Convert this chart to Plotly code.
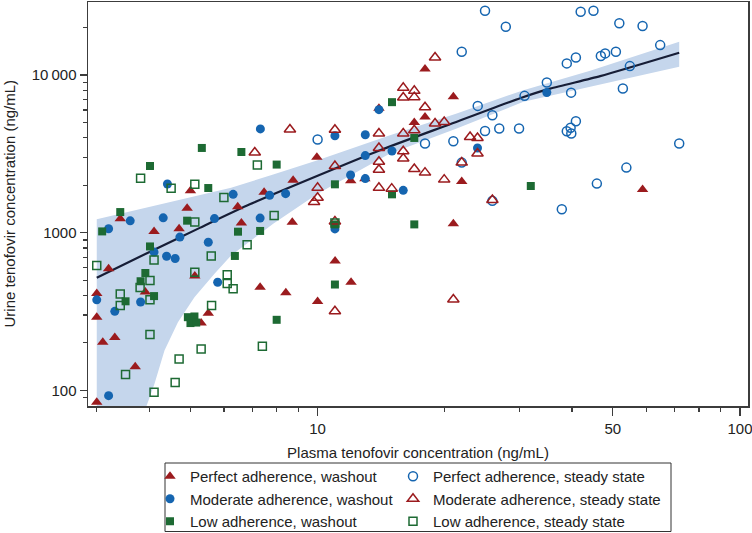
import plotly.graph_objects as go

# ---------------- data ----------------
perfect_washout_x = [3.0, 3.0, 3.0, 3.2, 3.1, 3.31, 3.7, 3.91, 4.1, 4.7, 5.12, 5.3, 5.51, 3.41, 5.0, 4.91,
                     6.47, 6.6, 7.47, 8.75, 8.71, 9.96, 11.98, 12.94, 11.0, 12.0, 7.31, 8.41, 10.0, 17.96,
                     20.96, 16.94, 17.96, 21.94, 20.96, 58.8, 13.97]
perfect_washout_y = [84, 411, 291, 590, 202, 216, 141, 420, 1019, 1060, 531, 267, 308, 1227, 1849, 1432,
                     1463, 1151, 1804, 2150, 1163, 3011, 2135, 2198, 662, 485, 451, 416, 366, 10920,
                     7280, 5003, 5430, 2110, 1141, 1877, 6170]

moderate_washout_x = [3.2, 3.6, 4.31, 4.41, 6.31, 5.7, 4.72, 5.51, 4.1, 4.39, 4.6, 7.32, 7.31, 7.7, 8.4,
                      10.99, 12.97, 11.97, 12.97, 12.97, 13.97, 15.0, 10.99, 3.0, 3.31, 3.81, 5.8, 3.2,
                      15.95, 23.91, 34.89]
moderate_washout_y = [1060, 1189, 1242, 2037, 1752, 1229, 938, 870, 753, 709, 686, 4556, 1238, 1727, 1770,
                      4124, 4184, 2324, 2204, 3086, 6036, 3302, 1057, 375, 317, 363, 485, 92.4,
                      1857, 3450, 7762]

low_washout_x = [5.32, 4.01, 5.51, 3.41, 3.09, 4.91, 4.01, 6.37, 6.6, 8.0, 10.99, 3.91, 3.81, 3.51, 4.1,
                 6.48, 7.31, 4.93, 5.11, 5.0, 5.16, 8.0, 10.99, 15.0, 15.0, 16.94, 31.97, 16.94, 10.99]
low_washout_y = [3450, 2651, 1921, 1352, 1019, 1192, 818, 712, 3253, 2706, 2028, 555, 492, 367, 396,
                 1015, 1026, 291, 294, 267, 269, 280, 469, 6737, 1752, 3993, 1978, 1129, 1129]

perfect_steady_x = [10.0, 24.91, 27.9, 21.94, 41.96, 38.9, 40.88, 34.89, 30.9, 39.83, 23.94, 25.93, 24.91,
                    26.92, 29.99, 38.9, 39.72, 40.88, 39.87, 17.96, 20.96, 21.94, 25.93, 37.86, 45.83,
                    44.99, 51.8, 58.8, 64.73, 46.84, 47.95, 50.84, 54.87, 52.81, 53.83, 71.8]
perfect_steady_y = [3901, 25630, 20290, 14070, 25260, 11870, 12950, 8985, 7387, 7742, 6379, 5568, 4425,
                    4583, 4583, 4406, 4637, 5100, 4259, 3679, 3805, 2786, 1593, 1407, 2049,
                    25630, 21320, 20490, 15510, 13210, 13740, 14070, 11410, 8230, 2589, 3679]

moderate_steady_x = [8.6, 7.1, 10.99, 10.99, 10.0, 10.0, 9.81, 10.99, 13.97, 13.97, 13.97, 13.97, 13.97,
                     14.98, 10.99, 18.97, 15.95, 16.94, 15.95, 16.94, 17.96, 18.97, 19.94, 15.95, 16.94,
                     22.96, 23.91, 15.95, 15.95, 16.94, 17.96, 19.94, 21.94, 23.91, 25.93, 20.96]
moderate_steady_y = [4523, 3230, 4503, 2647, 1926, 1665, 1565, 1180, 4266, 3444, 2819, 2507, 1926,
                     1904, 317, 12950, 8305, 7948, 7215, 7247, 6261, 4930, 5047, 4259, 4471,
                     4053, 3993, 3287, 2954, 2537, 2406, 2172, 2786, 3178, 1612, 377]

low_steady_x = [3.81, 4.5, 5.12, 6.0, 7.2, 7.89, 5.12, 5.6, 3.0, 4.1, 3.41, 3.41, 3.8, 4.01, 4.01, 5.12,
                6.11, 6.11, 6.31, 5.61, 4.01, 3.51, 4.1, 4.6, 4.7, 5.3, 7.4, 6.81, 10.99]
low_steady_y = [2214, 1912, 2028, 1670, 2694, 1288, 1168, 712, 620, 670, 409, 345, 449, 497, 375, 562,
                541, 476, 441, 345, 226, 126, 97.3, 112, 158, 183, 190, 840, 1154]

fit_x = [3.0, 4.0, 5.26, 6.91, 10.0, 14.05, 20.58, 30.16, 35.52, 46.67, 71.8]
fit_y = [517, 755, 1073, 1513, 2297, 3336, 4881, 7141, 8208, 9855, 13860]

band_x = [3.0, 3.4, 3.925, 4.11, 4.34, 4.67, 5.11, 5.7, 6.24, 7.85, 10.0, 14.84, 21.35, 30.71, 44.19, 71.8]
band_upper = [1215, 1315, 1442, 1484, 1536, 1607, 1702, 1822, 1932, 2337, 2882, 4155, 5708, 8028, 10680, 16280]
band_lower = [20, 45, 78, 110, 179, 270, 390, 549, 717, 1141, 1770, 3178, 4583, 6766, 8425, 11290]

x_tickvals = [10, 50, 100]
x_ticktext = ["10", "50", "100"]
x_minor = [3, 4, 5, 6, 7, 8, 9, 20, 30, 40, 60, 70, 80, 90]
y_tickvals = [100, 1000, 10000]
y_ticktext = ["100", "1000", "10\u2009000"]
y_minor = [90, 200, 300, 400, 500, 600, 700, 800, 900,
           2000, 3000, 4000, 5000, 6000, 7000, 8000, 9000, 20000]

x_title = "Plasma tenofovir concentration (ng/mL)"
y_title = "Urine tenofovir concentration (ng/mL)"

RED = "#9b1b1e"
BLUE = "#1565b0"
GREEN = "#1d6a33"
BAND = "#c5d6ec"
LINE = "#161d36"
AXIS = "#3c3c3c"
TXT = "#222222"
FS = 15

fig = go.Figure()

fig.add_trace(go.Scatter(
    x=band_x + band_x[::-1], y=band_upper + band_lower[::-1],
    mode="lines", fill="toself", fillcolor=BAND, line=dict(width=0),
    showlegend=False, hoverinfo="skip"))

fig.add_trace(go.Scatter(
    x=fit_x, y=fit_y, mode="lines", line=dict(color=LINE, width=2.2, shape="spline", smoothing=0.6),
    showlegend=False, hoverinfo="skip"))

series = [
    ("Perfect adherence, washout", perfect_washout_x, perfect_washout_y, "triangle-up", RED, 10, True, "legend"),
    ("Moderate adherence, washout", moderate_washout_x, moderate_washout_y, "circle", BLUE, 9, True, "legend"),
    ("Low adherence, washout", low_washout_x, low_washout_y, "square", GREEN, 8, True, "legend"),
    ("Perfect adherence, steady state", perfect_steady_x, perfect_steady_y, "circle-open", BLUE, 9, False, "legend2"),
    ("Moderate adherence, steady state", moderate_steady_x, moderate_steady_y, "triangle-up-open", RED, 10, False, "legend2"),
    ("Low adherence, steady state", low_steady_x, low_steady_y, "square-open", GREEN, 8, False, "legend2"),
]
for name, xs, ys, sym, col, size, filled, leg in series:
    fig.add_trace(go.Scatter(
        x=xs, y=ys, mode="markers", name=name, legend=leg,
        marker=dict(symbol=sym, size=size, color=col,
                    line=dict(width=0 if filled else 1.5, color=col))))

# legend frame (drawn as a rectangle so its size matches the reference)
L, B, H, W = 88, 127, 404, 660
def px_x(p):
    return (p - L) / W
def px_y(p):
    return (533 - B - p) / H

fig.add_shape(type="rect", xref="paper", yref="paper",
              x0=px_x(165), x1=px_x(671), y0=px_y(531.5), y1=px_y(463),
              line=dict(color="#333333", width=1), fillcolor="rgba(0,0,0,0)", layer="above")

# y-axis title as rotated text
fig.add_annotation(text=y_title, xref="paper", yref="paper", x=px_x(8.5), y=0.5,
                   xanchor="center", yanchor="middle", textangle=-90, showarrow=False,
                   font=dict(size=FS, color=TXT))

legend_common = dict(
    orientation="v", xref="container", yref="container", xanchor="left", yanchor="top",
    borderwidth=0, font=dict(size=FS, color=TXT), traceorder="normal",
    itemsizing="trace", bgcolor="rgba(0,0,0,0)")

fig.update_layout(
    width=752, height=533,
    margin=dict(l=L, r=4, t=2, b=B, autoexpand=False),
    plot_bgcolor="white", paper_bgcolor="white",
    font=dict(family="Liberation Sans, Arial, sans-serif", size=FS, color=TXT),
    showlegend=True, hovermode=False,
    legend=dict(x=150 / 752, y=1 - 460 / 533, **legend_common),
    legend2=dict(x=393 / 752, y=1 - 460 / 533, **legend_common),
)

fig.update_xaxes(
    type="log", range=[0.4564, 2.019], automargin=False,
    showline=True, linecolor=AXIS, linewidth=1.5, mirror=True,
    showgrid=False, zeroline=False,
    ticks="outside", ticklen=8, tickwidth=1.3, tickcolor=AXIS,
    tickmode="array", tickvals=x_tickvals, ticktext=x_ticktext,
    ticklabeloverflow="allow",
    minor=dict(ticks="outside", ticklen=4, tickwidth=1.2, tickcolor=AXIS,
               tickmode="array", tickvals=x_minor, showgrid=False),
    title=dict(text=x_title, standoff=12, font=dict(size=FS, color=TXT)),
    tickfont=dict(size=FS, color=TXT),
)
fig.update_yaxes(
    type="log", range=[1.9002, 4.4641], automargin=False,
    showline=True, linecolor=AXIS, linewidth=1.5, mirror=True,
    showgrid=False, zeroline=False,
    ticks="outside", ticklen=7, tickwidth=1.3, tickcolor=AXIS,
    tickmode="array", tickvals=y_tickvals, ticktext=y_ticktext,
    ticklabeloverflow="allow",
    minor=dict(ticks="outside", ticklen=4, tickwidth=1.2, tickcolor=AXIS,
               tickmode="array", tickvals=y_minor, showgrid=False),
    tickfont=dict(size=FS, color=TXT),
)

fig.write_html("out.html", config={"displayModeBar": False, "staticPlot": True},
               post_script="document.body.style.margin='0px';")
